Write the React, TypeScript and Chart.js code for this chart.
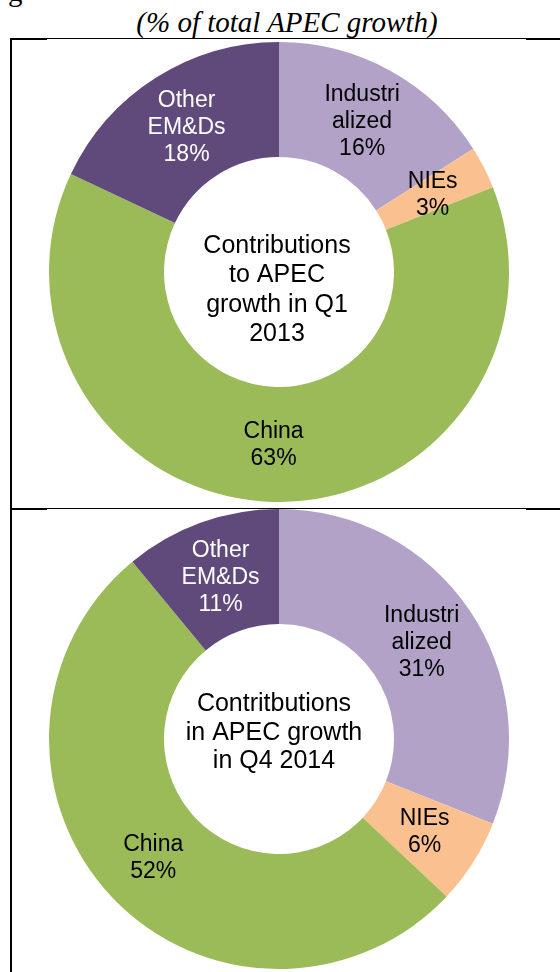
import React, { useEffect, useRef } from "react";
import { Chart, registerables } from "chart.js";

Chart.register(...registerables);

// ---- Data ----
const categories = ["Industrialized", "NIEs", "China", "Other EM&Ds"];
const categoryLabelLines = [["Industri", "alized"], ["NIEs"], ["China"], ["Other", "EM&Ds"]];
const q1_2013Values = [16, 3, 63, 18];
const q4_2014Values = [31, 6, 52, 11];
const sliceColors = ["#B3A2C7", "#FAC090", "#9BBB59", "#604A7B"];
const labelColors = ["#000000", "#000000", "#000000", "#FFFFFF"];
const q1_2013CenterText = ["Contributions", "to APEC", "growth in Q1", "2013"];
const q4_2014CenterText = ["Contritbutions", "in APEC growth", "in Q4 2014"];
const subtitle = "(% of total APEC growth)";

const SANS = "'Liberation Sans', Arial, Helvetica, sans-serif";
const SERIF = "'Liberation Serif', 'Times New Roman', serif";

const labelPlugin = {
  id: "sliceLabels",
  afterDatasetsDraw(chart: any, _args: any, opts: any) {
    const ctx = chart.ctx;
    const meta = chart.getDatasetMeta(0);
    const data = chart.data.datasets[0].data as number[];
    ctx.save();
    ctx.textAlign = "center";
    ctx.textBaseline = "middle";
    ctx.font = `23px ${SANS}`;
    meta.data.forEach((arc: any, i: number) => {
      const p = arc.getCenterPoint();
      const lines = [...categoryLabelLines[i], `${data[i]}%`];
      ctx.fillStyle = labelColors[i];
      const lh = 27;
      lines.forEach((ln: string, j: number) => {
        ctx.fillText(ln, p.x, p.y + 1 + (j - (lines.length - 1) / 2) * lh);
      });
    });
    const arc0 = meta.data[0];
    const cx = arc0.x + (opts.dx || 0);
    const cy = arc0.y + (opts.dy || 0);
    ctx.font = `25px ${SANS}`;
    ctx.fillStyle = "#000000";
    const clines: string[] = opts.lines || [];
    const clh = opts.lineHeight || 29;
    clines.forEach((ln, j) => {
      ctx.fillText(ln, cx, cy + (j - (clines.length - 1) / 2) * clh);
    });
    ctx.restore();
  },
};

function Donut(props: {
  values: number[];
  centerLines: string[];
  left: number;
  top: number;
  size: number;
  dx: number;
  dy: number;
  lineHeight: number;
}) {
  const ref = useRef<HTMLCanvasElement | null>(null);
  useEffect(() => {
    if (!ref.current) return;
    const chart = new Chart(ref.current, {
      type: "doughnut",
      data: {
        labels: categories,
        datasets: [
          {
            data: props.values,
            backgroundColor: sliceColors,
            borderWidth: 0,
          },
        ],
      },
      options: {
        animation: false,
        responsive: false,
        maintainAspectRatio: false,
        devicePixelRatio: 1,
        cutout: "50%",
        events: [],
        layout: { padding: 0 },
        plugins: {
          legend: { display: false },
          tooltip: { enabled: false },
          sliceLabels: {
            lines: props.centerLines,
            dx: props.dx,
            dy: props.dy,
            lineHeight: props.lineHeight,
          },
        } as any,
      },
      plugins: [labelPlugin as any],
    });
    return () => chart.destroy();
  }, []);
  return (
    <canvas
      ref={ref}
      width={props.size}
      height={props.size}
      style={{
        position: "absolute",
        left: props.left,
        top: props.top,
        width: props.size,
        height: props.size,
      }}
    />
  );
}

function Line(p: { x: number; y: number; w: number; h: number }) {
  return (
    <div
      style={{
        position: "absolute",
        left: p.x,
        top: p.y,
        width: p.w,
        height: p.h,
        background: "#000",
      }}
    />
  );
}

export default function App() {
  return (
    <div
      style={{
        position: "absolute",
        left: 0,
        top: 0,
        width: 560,
        height: 972,
        overflow: "hidden",
        background: "#fff",
      }}
    >
      <div
        style={{
          position: "absolute",
          left: 8,
          top: -25,
          font: `29px ${SERIF}`,
          lineHeight: "32px",
          whiteSpace: "nowrap",
        }}
      >
        g
      </div>
      <div
        style={{
          position: "absolute",
          left: 87,
          top: 6,
          width: 400,
          textAlign: "center",
          font: `italic 29px ${SERIF}`,
          lineHeight: "32px",
          whiteSpace: "nowrap",
        }}
      >
        {subtitle}
      </div>
      {/* frame lines */}
      <Line x={10} y={38} w={550} h={1} />
      <Line x={10} y={38} w={37} h={2} />
      <Line x={526} y={38} w={34} h={2} />
      <Line x={10} y={38} w={2} h={934} />
      <Line x={10} y={508} w={550} h={1} />
      <Line x={10} y={508} w={37} h={2} />
      <Line x={526} y={508} w={34} h={2} />
      <Donut
        values={q1_2013Values}
        centerLines={q1_2013CenterText}
        left={49}
        top={42}
        size={460}
        dx={-2}
        dy={18}
        lineHeight={29.5}
      />
      <Donut
        values={q4_2014Values}
        centerLines={q4_2014CenterText}
        left={49}
        top={509}
        size={460}
        dx={-5}
        dy={-6}
        lineHeight={28.5}
      />
    </div>
  );
}
